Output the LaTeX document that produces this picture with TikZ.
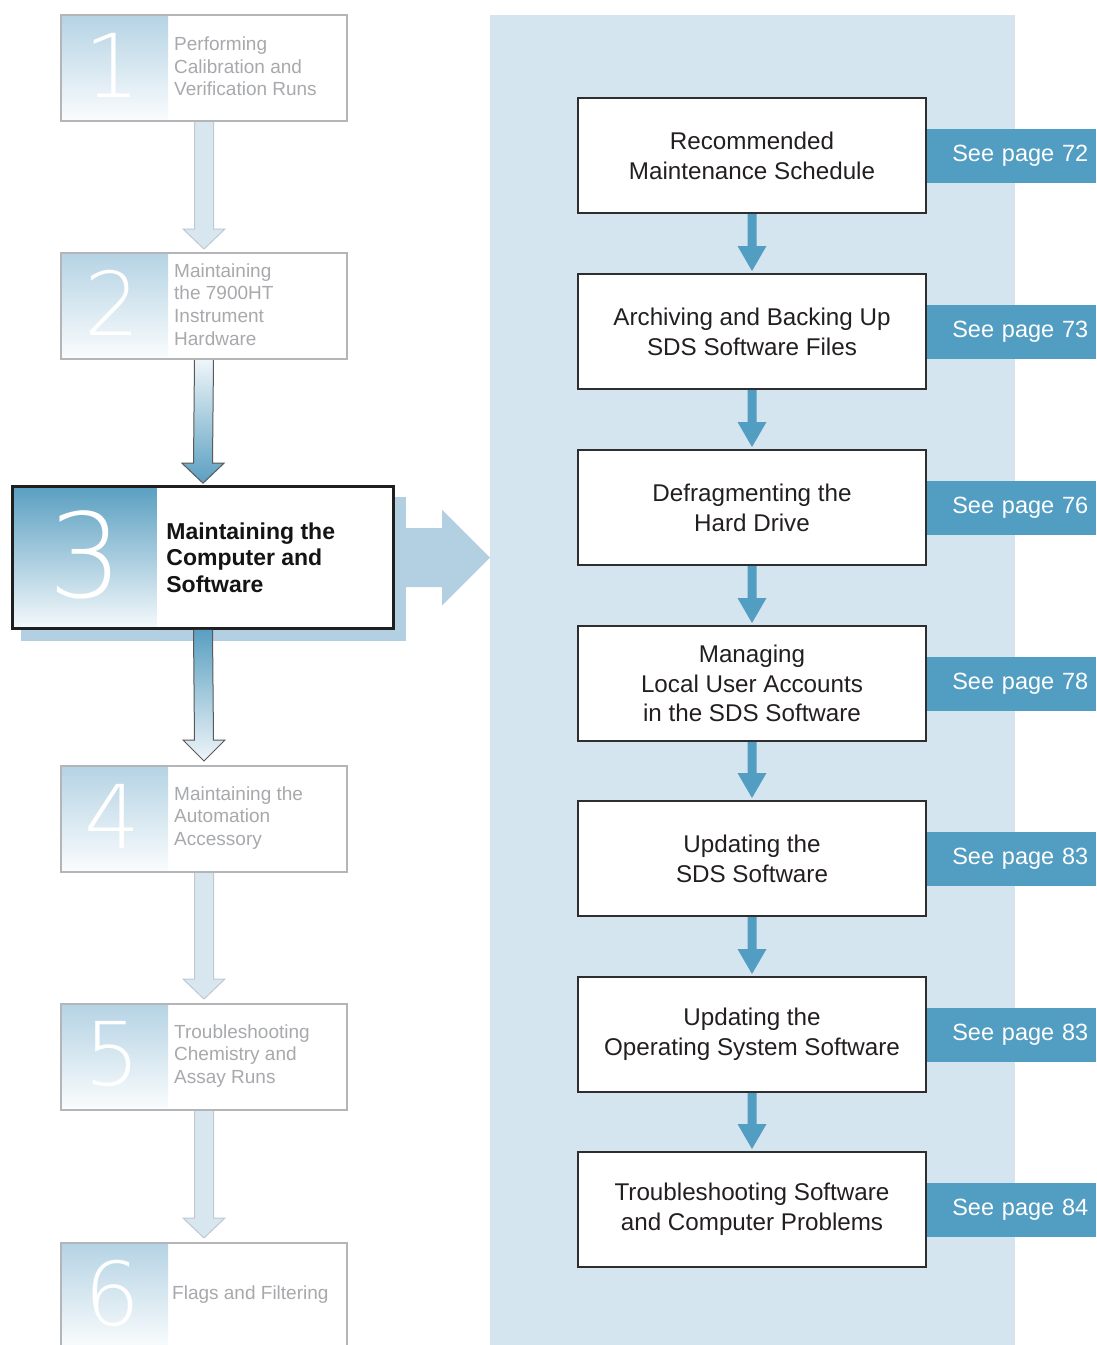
\documentclass[tikz,border=0pt]{standalone}
\usepackage{fontspec}
\setmainfont{Liberation Sans}
\newfontfamily\thinfont{DejaVu Sans ExtraLight}
\usetikzlibrary{calc}
\definecolor{panelc}{HTML}{D5E5F0}
\definecolor{tabc}{HTML}{529DC2}
\definecolor{shadowc}{HTML}{B3D0E3}
\definecolor{deepc}{HTML}{5A9FC1}
\definecolor{paleblue}{HTML}{B5D3E4}
\definecolor{lightarrow}{HTML}{D8E6F0}
\definecolor{lightstroke}{HTML}{BFC9D2}
\definecolor{grayborder}{HTML}{B3B5B8}
\definecolor{graytext}{HTML}{A7A9AC}
\definecolor{darktext}{HTML}{231F20}
\pgfdeclarelayer{bg}
\pgfsetlayers{bg,main}
\newcommand\varrow[6]{%
  \path[#1] ($(#2)+(-#4,0)$) -- ($(#3)+(-#4,-#6)$) -- ($(#3)+(-#5,-#6)$) -- (#3)
    -- ($(#3)+(#5,-#6)$) -- ($(#3)+(#4,-#6)$) -- ($(#2)+(#4,0)$);}
\tikzset{
  lbox/.style={draw=grayborder, line width=2pt, fill=white, inner sep=0pt,
    minimum width=286pt, minimum height=106pt,
    path picture={\shade[top color=paleblue, bottom color=paleblue!6]
      (path picture bounding box.north west) rectangle ([xshift=107pt]path picture bounding box.south west);}},
  mainbox/.style={draw=black!88, line width=2.6pt, fill=white, inner sep=0pt,
    minimum width=381pt, minimum height=142pt,
    path picture={\shade[top color=deepc, bottom color=deepc!6]
      (path picture bounding box.north west) rectangle ([xshift=144pt]path picture bounding box.south west);}},
  digit/.style={inner sep=0pt, text=white, font=\thinfont\fontsize{88}{88}\selectfont},
  bigdigit/.style={inner sep=0pt, text=white, font=\thinfont\fontsize{117}{117}\selectfont},
  ltext/.style={anchor=west, align=left, inner sep=0pt, text=graytext, font=\fontsize{19}{22.7}\selectfont},
  rbox/.style={draw=black!82, line width=2pt, fill=white, inner sep=0pt,
    minimum width=348pt, minimum height=115pt, align=center, text=darktext,
    font=\fontsize{24.2}{29.7}\selectfont},
  tab/.style={anchor=west, fill=tabc, text=white, minimum height=54pt, text width=153pt,
    inner xsep=8pt, inner ysep=0pt, align=right, font=\fontsize{23.5}{28}\selectfont},
  lightarr/.style={fill=lightarrow, draw=lightstroke, line width=1pt, line join=miter},
  blueup/.style={top color=deepc, bottom color=deepc!10, draw=black!65, line width=1pt},
  bluedown/.style={top color=deepc!10, bottom color=deepc, draw=black!65, line width=1pt},
  rarr/.style={fill=tabc}
}
\begin{document}
\begin{tikzpicture}[x=1pt, y=-1pt]
\useasboundingbox (0,0) rectangle (1096,1345);
\begin{pgfonlayer}{bg}
  \node[fill=panelc, inner sep=0pt, minimum width=525pt, minimum height=1330pt, anchor=north west] (panel) at (490,15) {};
\end{pgfonlayer}

% right column
\node[rbox] (r1) at (752,155.5) {Recommended\\Maintenance Schedule};
\node[rbox] (r2) at (752,331.5) {Archiving and Backing Up\\SDS Software Files};
\node[rbox] (r3) at (752,507.5) {Defragmenting the\\Hard Drive};
\node[rbox] (r4) at (752,683.5) {Managing\\Local User Accounts\\in the SDS Software};
\node[rbox] (r5) at (752,858.5) {Updating the\\SDS Software};
\node[rbox] (r6) at (752,1034.5) {Updating the\\Operating System Software};
\node[rbox] (r7) at (752,1209.5) {Troubleshooting Software\\and Computer Problems};

\node[tab] (p1) at (r1.east) {See page 72};
\node[tab] (p2) at (r2.east) {See page 73};
\node[tab] (p3) at (r3.east) {See page 76};
\node[tab] (p4) at (r4.east) {See page 78};
\node[tab] (p5) at (r5.east) {See page 83};
\node[tab] (p6) at (r6.east) {See page 83};
\node[tab] (p7) at (r7.east) {See page 84};

\foreach \a/\b in {r1/r2, r2/r3, r3/r4, r4/r5, r5/r6, r6/r7}{
  \coordinate (tip-\b) at ($(\b.north)+(0,-2)$);
  \varrow{rarr}{\a.south}{tip-\b}{4.5}{14.5}{25}
}

% left column
\node[lbox] (b1) at (204,68) {};
\node[lbox] (b2) at (204,306) {};
\node[mainbox] (b3) at (203,557.5) {};
\node[lbox] (b4) at (204,819) {};
\node[lbox] (b5) at (204,1057) {};
\node[lbox] (b6) at (204,1296) {};

\begin{pgfonlayer}{bg}
  \fill[shadowc] ($(b3.north west)+(10,12)$) rectangle ($(b3.south east)+(11,11)$);
  \coordinate (bigtip) at (panel.west |- b3.center);
  \fill[shadowc] ($(b3.east)+(-20,-29.5)$) -- ($(bigtip)+(-48,-29.5)$) -- ($(bigtip)+(-48,-48)$)
    -- (bigtip) -- ($(bigtip)+(-48,48)$) -- ($(bigtip)+(-48,29.5)$) -- ($(b3.east)+(-20,29.5)$) -- cycle;
\end{pgfonlayer}

\node[digit] (n1) at ($(b1.west)+(52,-3)$) {1};
\node[digit] (n2) at ($(b2.west)+(52,-3)$) {2};
\node[bigdigit] (n3) at ($(b3.west)+(75,-2.5)$) {3};
\node[digit] (n4) at ($(b4.west)+(52,-3)$) {4};
\node[digit] (n5) at ($(b5.west)+(52,-3)$) {5};
\node[digit] (n6) at ($(b6.west)+(52,-3)$) {6};

\node[ltext] (l1) at ($(b1.west)+(114,-1.5)$) {Performing\\Calibration and\\Verification Runs};
\node[ltext] (l2) at ($(b2.west)+(114,-1.5)$) {Maintaining\\the 7900HT\\Instrument\\Hardware};
\node[anchor=west, align=left, inner sep=0pt, text=black!92, font=\bfseries\fontsize{23}{26.5}\selectfont]
  (l3) at ($(b3.west)+(155,0)$) {Maintaining the\\Computer and\\Software};
\node[ltext] (l4) at ($(b4.west)+(114,-1)$) {Maintaining the\\Automation\\Accessory};
\node[ltext] (l5) at ($(b5.west)+(114,-1)$) {Troubleshooting\\Chemistry and\\Assay Runs};
\node[ltext] (l6) at ($(b6.west)+(112,-1)$) {Flags and Filtering};

\coordinate (t2) at ($(b2.north)+(0,-3)$);
\coordinate (t3) at ($(b3.north)+(0,-2)$);
\coordinate (t4) at ($(b4.north)+(0,-4)$);
\coordinate (t5) at ($(b5.north)+(0,-4)$);
\coordinate (t6) at ($(b6.north)+(0,-4)$);
\varrow{lightarr}{b1.south}{t2}{9.5}{21}{20}
\varrow{bluedown}{b2.south}{t3}{9.5}{21}{20}
\varrow{blueup}{b3.south}{t4}{9.5}{21}{21}
\varrow{lightarr}{b4.south}{t5}{9.5}{21}{20}
\varrow{lightarr}{b5.south}{t6}{9.5}{21}{20}
\end{tikzpicture}
\end{document}
